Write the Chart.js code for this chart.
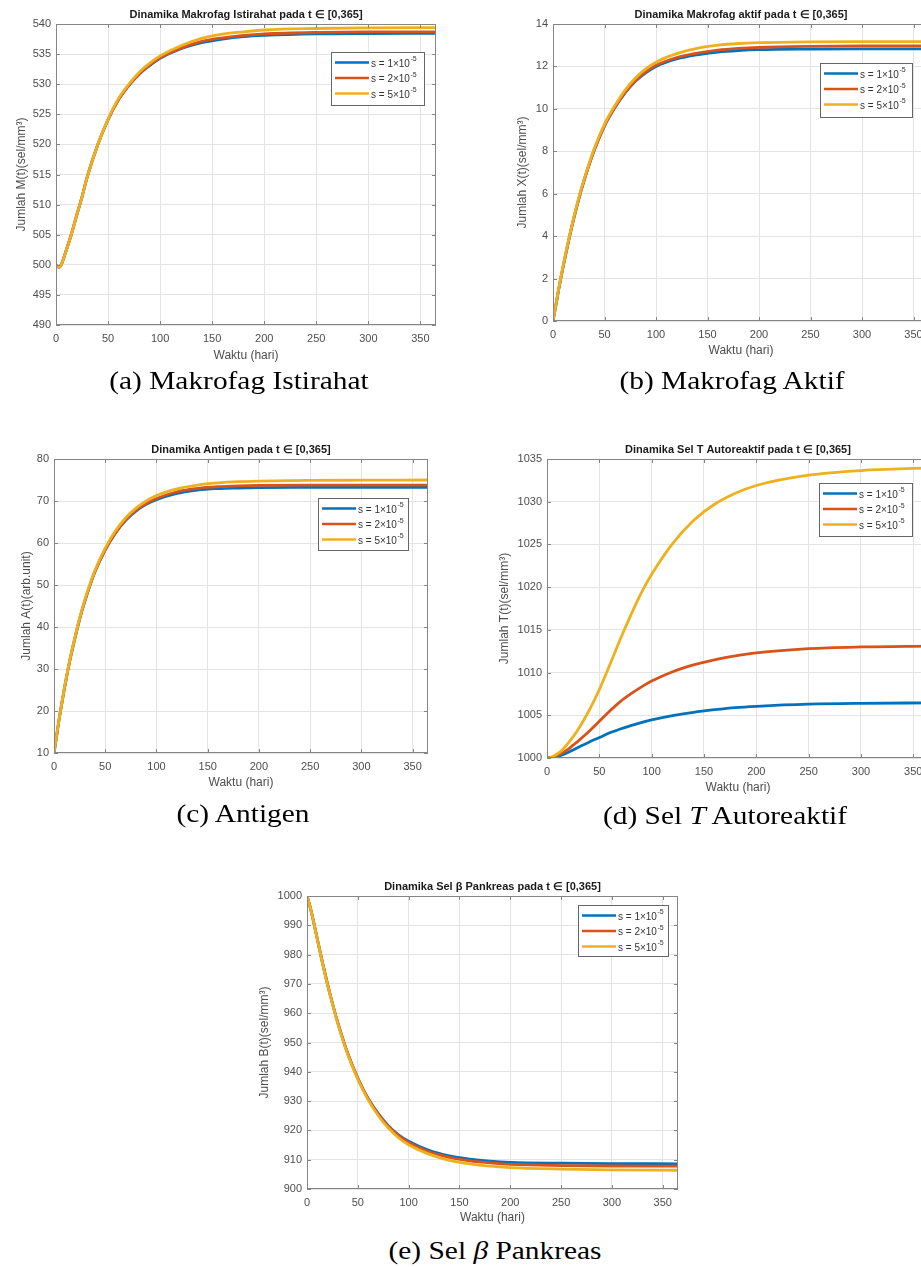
<!DOCTYPE html>
<html>
<head>
<meta charset="utf-8">
<title>Dinamika model pada t ∈ [0,365]</title>
<script src="https://cdn.jsdelivr.net/npm/chart.js"></script>
<style>
    body {
        margin: 0;
        background: #fff;
        width: 921px;
        height: 1267px;
        overflow: hidden;
        position: relative;
    }
    canvas {
        position: absolute;
    }
    .caption {
        position: absolute;
        width: 400px;
        text-align: center;
        font-family: "Liberation Serif", "Times New Roman", serif;
        font-size: 26px;
        line-height: 24px;
        color: #000;
        white-space: nowrap;
        transform: scaleX(1.13);
        transform-origin: 50% 50%;
    }
</style>
</head>
<body>
<canvas id="chartM"></canvas>
<canvas id="chartX"></canvas>
<canvas id="chartA"></canvas>
<canvas id="chartT"></canvas>
<canvas id="chartB"></canvas>

<div class="caption" style="left:39px;top:369px">(a) Makrofag Istirahat</div>
<div class="caption" style="left:532px;top:369px">(b) Makrofag Aktif</div>
<div class="caption" style="left:43px;top:802px">(c) Antigen</div>
<div class="caption" style="left:525px;top:804px">(d) Sel <i>T</i> Autoreaktif</div>
<div class="caption" style="left:295px;top:1239px">(e) Sel <i>β</i> Pankreas</div>

<script>
// time (hari) shared by every series
const days = [0, 3, 5, 10, 15, 20, 25, 30, 40, 50, 60, 70, 80, 90, 100, 120, 140, 160, 180, 200, 250, 300, 365];
const xTicks = [0, 50, 100, 150, 200, 250, 300, 350];
const seriesLabels = ['s = 1×10^-5', 's = 2×10^-5', 's = 5×10^-5'];

// (a) makrofag istirahat M(t)
const mTicks = [490, 495, 500, 505, 510, 515, 520, 525, 530, 535, 540];
const mS1 = [500, 499.6, 500, 502.5, 505.2, 508.3, 511.3, 514.6, 519.9, 524.1, 527.4, 529.8, 531.7, 533.1, 534.3, 535.9, 536.9, 537.5, 537.9, 538.1, 538.35, 538.42, 538.45];
const mS2 = [500, 499.6, 500, 502.5, 505.2, 508.3, 511.3, 514.6, 519.9, 524.1, 527.4, 529.8, 531.7, 533.2, 534.4, 536.0, 537.1, 537.7, 538.1, 538.35, 538.6, 538.68, 538.7];
const mS5 = [500, 499.6, 500, 502.5, 505.2, 508.3, 511.3, 514.6, 519.9, 524.2, 527.6, 530.0, 532.0, 533.5, 534.7, 536.4, 537.6, 538.3, 538.7, 539.0, 539.25, 539.35, 539.4];

// (b) makrofag aktif X(t)
const xValTicks = [0, 2, 4, 6, 8, 10, 12, 14];
const xS1 = [0, 0.8, 1.35, 2.6, 3.75, 4.8, 5.75, 6.6, 8.05, 9.2, 10.05, 10.75, 11.3, 11.7, 12.0, 12.35, 12.55, 12.68, 12.75, 12.79, 12.82, 12.83, 12.83];
const xS2 = [0, 0.8, 1.35, 2.6, 3.75, 4.8, 5.75, 6.6, 8.05, 9.2, 10.07, 10.78, 11.33, 11.74, 12.05, 12.42, 12.63, 12.77, 12.85, 12.9, 12.95, 12.97, 12.97];
const xS5 = [0, 0.82, 1.38, 2.65, 3.8, 4.85, 5.8, 6.65, 8.12, 9.28, 10.15, 10.88, 11.45, 11.88, 12.2, 12.6, 12.85, 13.0, 13.08, 13.12, 13.16, 13.17, 13.17];

// (c) antigen A(t)
const aTicks = [10, 20, 30, 40, 50, 60, 70, 80];
const aS1 = [10, 14.8, 18, 25.1, 31.5, 36.9, 41.9, 46.1, 53.2, 58.4, 62.4, 65.4, 67.6, 69.2, 70.3, 71.8, 72.6, 72.95, 73.1, 73.2, 73.25, 73.26, 73.26];
const aS2 = [10, 14.8, 18, 25.1, 31.5, 36.9, 41.9, 46.1, 53.2, 58.4, 62.4, 65.5, 67.8, 69.4, 70.6, 72.2, 73.0, 73.4, 73.6, 73.7, 73.8, 73.8, 73.8];
const aS5 = [10, 14.9, 18.1, 25.3, 31.7, 37.1, 42.1, 46.4, 53.5, 58.8, 62.9, 66.0, 68.3, 70.0, 71.3, 72.9, 73.8, 74.3, 74.6, 74.75, 74.9, 74.95, 75.0];

// (d) sel T autoreaktif T(t)
const tTicks = [1000, 1005, 1010, 1015, 1020, 1025, 1030, 1035];
const tS1 = [1000, 1000.02, 1000.05, 1000.2, 1000.4, 1000.65, 1000.95, 1001.25, 1001.85, 1002.4, 1002.95, 1003.4, 1003.8, 1004.15, 1004.45, 1004.95, 1005.35, 1005.65, 1005.9, 1006.05, 1006.3, 1006.4, 1006.45];
const tS2 = [1000, 1000.03, 1000.08, 1000.3, 1000.6, 1001.0, 1001.5, 1002.0, 1003.1, 1004.3, 1005.5, 1006.6, 1007.5, 1008.3, 1009.0, 1010.1, 1010.9, 1011.5, 1011.95, 1012.3, 1012.8, 1013.0, 1013.1];
const tS5 = [1000, 1000.05, 1000.15, 1000.5, 1001.0, 1001.7, 1002.5, 1003.4, 1005.5, 1008.0, 1010.9, 1013.9, 1016.7, 1019.3, 1021.5, 1025.1, 1027.8, 1029.7, 1031.0, 1031.9, 1033.1, 1033.65, 1033.95];

// (e) sel beta pankreas B(t)
const bTicks = [900, 910, 920, 930, 940, 950, 960, 970, 980, 990, 1000];
const bS1 = [1000, 996.4, 993.5, 985.6, 977.6, 970.2, 963.4, 957.1, 946.3, 937.8, 931.0, 925.8, 921.6, 918.5, 916.3, 913.2, 911.3, 910.2, 909.5, 909.1, 908.8, 908.65, 908.6];
const bS2 = [1000, 996.4, 993.5, 985.6, 977.6, 970.2, 963.4, 957.1, 946.3, 937.8, 930.9, 925.6, 921.4, 918.2, 915.9, 912.7, 910.8, 909.6, 908.9, 908.4, 908.0, 907.85, 907.8];
const bS5 = [1000, 996.4, 993.5, 985.5, 977.5, 970.0, 963.2, 956.9, 946.0, 937.4, 930.5, 925.1, 920.8, 917.5, 915.1, 911.9, 909.8, 908.6, 907.8, 907.3, 906.8, 906.55, 906.4];

const lineColors = ['#0072BD', '#D95319', '#EDB120'];
const textGray = '#4d4d4d';

Chart.defaults.font.family = '"Liberation Sans", Arial, Helvetica, sans-serif';

// matlab style box round the axes, with small inward ticks
const axesBox = {
    id: 'axesBox',
    afterDatasetsDraw(chart) {
        const { ctx, chartArea: a, scales } = chart;
        ctx.save();
        ctx.strokeStyle = '#858585';
        ctx.lineWidth = 1;
        ctx.strokeRect(a.left + 0.5, a.top + 0.5, a.width - 1, a.height - 1);
        ctx.beginPath();
        scales.x.ticks.forEach(t => {
            const px = Math.round(scales.x.getPixelForValue(t.value)) + 0.5;
            ctx.moveTo(px, a.bottom); ctx.lineTo(px, a.bottom - 4);
            ctx.moveTo(px, a.top); ctx.lineTo(px, a.top + 4);
        });
        scales.y.ticks.forEach(t => {
            const py = Math.round(scales.y.getPixelForValue(t.value)) + 0.5;
            ctx.moveTo(a.left, py); ctx.lineTo(a.left + 4, py);
            ctx.moveTo(a.right, py); ctx.lineTo(a.right - 4, py);
        });
        ctx.stroke();
        ctx.restore();
    }
};

// legend box inside the axes (top right), exponent drawn raised
const boxLegend = {
    id: 'boxLegend',
    afterDraw(chart, args, opts) {
        const { ctx, chartArea: a } = chart;
        const x = Math.round(a.right - opts.right - opts.width);
        const y = Math.round(a.top + opts.top);
        ctx.save();
        ctx.fillStyle = '#fff';
        ctx.fillRect(x, y, opts.width, opts.height);
        ctx.strokeStyle = '#666';
        ctx.lineWidth = 1;
        ctx.strokeRect(x + 0.5, y + 0.5, opts.width, opts.height);
        chart.data.datasets.forEach((ds, i) => {
            const cy = y + 10.5 + i * 15.5;
            ctx.strokeStyle = ds.borderColor;
            ctx.lineWidth = 2.5;
            ctx.beginPath();
            ctx.moveTo(x + 4, cy);
            ctx.lineTo(x + 38, cy);
            ctx.stroke();
            const [base, exp] = ds.label.split('^');
            ctx.fillStyle = '#333';
            ctx.textBaseline = 'middle';
            ctx.font = '10px "Liberation Sans", Arial, sans-serif';
            ctx.fillText(base, x + 40, cy + 1.5);
            const w = ctx.measureText(base).width;
            ctx.font = '7px "Liberation Sans", Arial, sans-serif';
            ctx.fillText(exp, x + 40.5 + w, cy - 3);
        });
        ctx.restore();
    }
};

function makeChart(id, frame, title, yTitle, yTicks, series, legendBox) {
    const cv = document.getElementById(id);
    cv.width = frame.w;
    cv.height = frame.h;
    cv.style.left = frame.x + 'px';
    cv.style.top = frame.y + 'px';
    return new Chart(cv, {
        type: 'line',
        data: {
            datasets: series.map((vals, i) => ({
                label: seriesLabels[i],
                data: days.map((d, k) => ({ x: d, y: vals[k] })),
                borderColor: lineColors[i],
                backgroundColor: lineColors[i],
                borderWidth: 2.8,
                pointRadius: 0,
                fill: false,
                cubicInterpolationMode: 'monotone',
                order: series.length - i
            }))
        },
        options: {
            responsive: false,
            animation: false,
            devicePixelRatio: 1,
            layout: { padding: { left: 0, right: 10, top: 0, bottom: 0 } },
            plugins: {
                legend: { display: false },
                tooltip: { enabled: false },
                title: {
                    display: true,
                    fullSize: false,
                    text: title,
                    color: '#1a1a1a',
                    font: { size: 11, weight: 'bold' },
                    padding: { top: frame.titleTop, bottom: frame.titleBottom }
                },
                boxLegend: legendBox
            },
            scales: {
                x: {
                    type: 'linear',
                    min: 0,
                    max: 365,
                    afterFit: s => { s.height = frame.xH; },
                    ticks: {
                        stepSize: xTicks[1] - xTicks[0],
                        includeBounds: false,
                        padding: 7,
                        color: textGray,
                        font: { size: 11 },
                        callback: v => String(v)
                    },
                    grid: { color: '#e4e4e4', drawTicks: false },
                    border: { display: false },
                    title: {
                        display: true,
                        text: 'Waktu (hari)',
                        color: textGray,
                        font: { size: 12 },
                        padding: { top: 0, bottom: frame.xTitlePad }
                    }
                },
                y: {
                    type: 'linear',
                    min: yTicks[0],
                    max: yTicks[yTicks.length - 1],
                    afterFit: s => { s.width = frame.yW; },
                    ticks: {
                        stepSize: yTicks[1] - yTicks[0],
                        padding: 5,
                        color: textGray,
                        font: { size: 11 },
                        callback: v => String(v)
                    },
                    grid: { color: '#e4e4e4', drawTicks: false },
                    border: { display: false },
                    title: {
                        display: true,
                        text: yTitle,
                        color: textGray,
                        font: { size: 12 },
                        padding: { top: frame.yTitlePad, bottom: 0 }
                    }
                }
            }
        },
        plugins: [axesBox, boxLegend]
    });
}

makeChart('chartM',
    { x: 0, y: 0, w: 446, h: 370, yW: 56, xH: 45, titleTop: 8.4, titleBottom: 2.4, yTitlePad: 14.8, xTitlePad: 6.8 },
    'Dinamika Makrofag Istirahat pada t ∈ [0,365]', 'Jumlah M(t)(sel/mm³)', mTicks, [mS1, mS2, mS5],
    { right: 12, top: 28, width: 93, height: 53 });

makeChart('chartX',
    { x: 497, y: 0, w: 442, h: 370, yW: 56, xH: 49, titleTop: 8.4, titleBottom: 2.4, yTitlePad: 18.8, xTitlePad: 11.8 },
    'Dinamika Makrofag aktif pada t ∈ [0,365]', 'Jumlah X(t)(sel/mm³)', xValTicks, [xS1, xS2, xS5],
    { right: 17, top: 39, width: 92, height: 54 });

makeChart('chartA',
    { x: 0, y: 430, w: 438, h: 370, yW: 54, xH: 47, titleTop: 13.4, titleBottom: 2.4, yTitlePad: 19.8, xTitlePad: 9.8 },
    'Dinamika Antigen pada t ∈ [0,365]', 'Jumlah A(t)(arb.unit)', aTicks, [aS1, aS2, aS5],
    { right: 20, top: 39, width: 90, height: 52 });

makeChart('chartT',
    { x: 487, y: 430, w: 452, h: 375, yW: 60, xH: 47, titleTop: 13.4, titleBottom: 2.4, yTitlePad: 10.8, xTitlePad: 9.8 },
    'Dinamika Sel T Autoreaktif pada t ∈ [0,365]', 'Jumlah T(t)(sel/mm³)', tTicks, [tS1, tS2, tS5],
    { right: 17, top: 24, width: 93, height: 53 });

makeChart('chartB',
    { x: 247, y: 866, w: 441, h: 369, yW: 60, xH: 46, titleTop: 14.4, titleBottom: 2.4, yTitlePad: 10.8, xTitlePad: 9.8 },
    'Dinamika Sel β Pankreas pada t ∈ [0,365]', 'Jumlah B(t)(sel/mm³)', bTicks, [bS1, bS2, bS5],
    { right: 10, top: 9, width: 90, height: 51 });
</script>
</body>
</html>
